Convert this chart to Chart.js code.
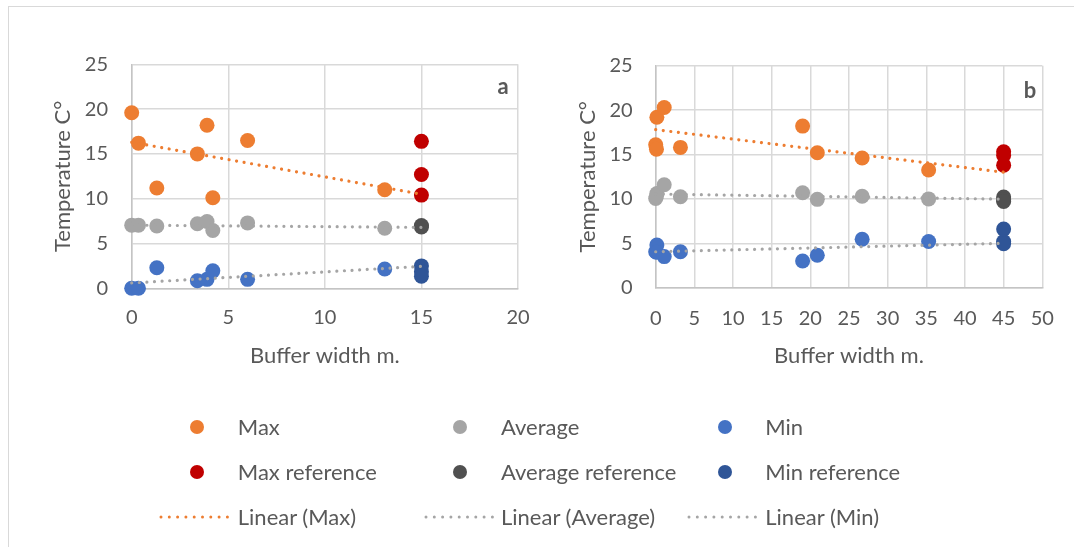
<!DOCTYPE html>
<html>
<head>
<meta charset="utf-8">
<script src="https://cdn.jsdelivr.net/npm/chart.js@4.4.1/dist/chart.umd.min.js"></script>
<style>
  html, body { margin: 0; padding: 0; background: #fff; }
  body { width: 1074px; height: 547px; position: relative; overflow: hidden; font-family: Lato, "Open Sans", sans-serif; }
  #frame { position: absolute; left: 8px; top: 6px; width: 1200px; height: 700px; border: 1px solid #d9d9d9; box-sizing: border-box; }
  .panel { position: absolute; top: 10px; width: 530px; height: 370px; }
  #panelA { left: 10px; }
  #panelB { left: 540px; }
  #legend { position: absolute; left: 0; top: 0; width: 1074px; height: 547px; pointer-events: none; }
  .item { position: absolute; height: 30px; line-height: 30px; color: #595959; font-size: 22px; white-space: nowrap; }
  .item .txt { position: absolute; top: 0; }
  .item .mark { position: absolute; top: 8px; width: 14px; height: 14px; border-radius: 50%; }
  .item svg { position: absolute; top: 13px; }
</style>
</head>
<body>
<div id="frame"></div>
<div class="panel" id="panelA"><canvas id="chartA" width="530" height="370"></canvas></div>
<div class="panel" id="panelB"><canvas id="chartB" width="530" height="370"></canvas></div>
<div id="legend"></div>
<script>
// ---- Panel a: buffer widths (m) and temperatures (°C) ----
const bufferA = [0, 0.35, 1.3, 3.4, 3.9, 4.2, 6.0, 13.1];
const maxA = [19.6, 16.2, 11.2, 15.0, 18.2, 10.1, 16.5, 11.0];
const avgA = [7.05, 7.05, 6.95, 7.2, 7.45, 6.45, 7.3, 6.7];
const minA = [0.0, 0.0, 2.3, 0.85, 1.0, 1.95, 1.0, 2.15];
const refBufferA = 15;
const maxRefA = [16.4, 12.7, 10.4];
const avgRefA = [7.0, 6.85];
const minRefA = [2.5, 1.85, 1.35];
const trendXA = [0, 15];
const trendMaxA = [16.3, 10.5];
const trendAvgA = [7.05, 6.8];
const trendMinA = [0.6, 2.45];

// ---- Panel b ----
const bufferB = [0, 0.15, 0.1, 1.1, 3.2, 19.0, 20.9, 26.7, 35.3];
const maxB = [16.1, 19.2, 15.6, 20.3, 15.8, 18.2, 15.2, 14.6, 13.25];
const avgB = [10.05, 10.6, 10.3, 11.6, 10.25, 10.7, 9.95, 10.3, 10.0];
const minB = [4.05, 4.8, 4.0, 3.5, 4.05, 3.0, 3.65, 5.45, 5.2];
const refBufferB = 45;
const maxRefB = [15.3, 14.9, 13.8];
const avgRefB = [10.2, 9.9, 9.7];
const minRefB = [6.6, 5.2, 4.95];
const trendXB = [0, 45];
const trendMaxB = [17.8, 13.0];
const trendAvgB = [10.55, 9.97];
const trendMinB = [4.05, 5.0];

// ---- Axis ticks and labels ----
const yTicks = [0, 5, 10, 15, 20, 25];
const xTicksA = [0, 5, 10, 15, 20];
const xTicksB = [0, 5, 10, 15, 20, 25, 30, 35, 40, 45, 50];
const xTitle = 'Buffer width m.';
const yTitle = 'Temperature C°';

const seriesNames = ['Max', 'Average', 'Min', 'Max reference', 'Average reference', 'Min reference'];
const trendNames = ['Linear (Max)', 'Linear (Average)', 'Linear (Min)'];

const COLORS = {
  max: '#ED7D31', avg: '#A5A5A5', min: '#4472C4',
  maxRef: '#C00000', avgRef: '#505050', minRef: '#2F5597',
  text: '#595959', grid: '#D9D9D9', axis: '#C4C4C4'
};
const FONT = 'Lato, "Open Sans", sans-serif';
const TICK_SIZE = 20, TITLE_SIZE = 22;

const pts = (xs, ys) => ys.map((y, i) => ({ x: Array.isArray(xs) ? xs[i] : xs, y }));

function markerSet(label, xs, ys, color, order) {
  return {
    type: 'scatter', label, data: pts(xs, ys), order,
    backgroundColor: color, borderColor: color, borderWidth: 0,
    pointRadius: 7.5, pointHoverRadius: 7.5, clip: false
  };
}
function trendSet(label, xs, ys, color) {
  return {
    type: 'line', label, data: pts(xs, ys), order: 0,
    borderColor: color, borderWidth: 3.2, borderDash: [0.01, 7.6], borderCapStyle: 'round',
    pointRadius: 0, fill: false, tension: 0, clip: false
  };
}

// panel letter drawn inside the plot area
const panelLetter = {
  id: 'panelLetter',
  afterDraw(chart, args, opts) {
    const { ctx, chartArea } = chart;
    ctx.save();
    ctx.font = 'bold 22px ' + FONT;
    ctx.fillStyle = COLORS.text;
    ctx.textAlign = 'center';
    ctx.textBaseline = 'alphabetic';
    ctx.fillText(opts.text, chartArea.right - opts.dx, chartArea.top + opts.dy);
    ctx.restore();
  }
};

function makeChart(id, cfg) {
  const d = cfg.data;
  const lh = 1.2;
  // x tick labels are pushed down through their line height (a tick padding would also widen the side margins)
  const xTickLH = 2 * (cfg.xTickY - cfg.area.bottom) / TICK_SIZE;
  const chart = new Chart(document.getElementById(id), {
    type: 'scatter',
    data: {
      datasets: [
        trendSet(trendNames[0], d.tx, d.tmax, COLORS.max),
        trendSet(trendNames[1], d.tx, d.tavg, COLORS.avg),
        trendSet(trendNames[2], d.tx, d.tmin, COLORS.avg),
        markerSet(seriesNames[5], d.rx, d.minRef, COLORS.minRef, 1),
        markerSet(seriesNames[4], d.rx, d.avgRef, COLORS.avgRef, 2),
        markerSet(seriesNames[3], d.rx, d.maxRef, COLORS.maxRef, 3),
        markerSet(seriesNames[2], d.x, d.min, COLORS.min, 4),
        markerSet(seriesNames[1], d.x, d.avg, COLORS.avg, 5),
        markerSet(seriesNames[0], d.x, d.max, COLORS.max, 6)
      ]
    },
    options: {
      responsive: false, animation: false, devicePixelRatio: 1,
      layout: { padding: { left: 0, top: cfg.area.top, right: 530 - cfg.area.right, bottom: 0 } },
      plugins: { legend: { display: false }, tooltip: { enabled: false }, panelLetter: cfg.letter },
      scales: {
        x: {
          type: 'linear', min: cfg.xTicks[0], max: cfg.xTicks[cfg.xTicks.length - 1],
          afterBuildTicks: s => { s.ticks = cfg.xTicks.map(v => ({ value: v })); },
          afterFit: s => { s.height = cfg.xAxisH; },
          grid: { color: COLORS.grid, lineWidth: 1.5, drawTicks: false },
          border: { color: COLORS.axis, width: 1.5 },
          ticks: { color: COLORS.text, font: { family: FONT, size: TICK_SIZE, lineHeight: xTickLH },
                   padding: 0, maxRotation: 0, autoSkip: false },
          title: { display: true, text: xTitle, color: COLORS.text, font: { family: FONT, size: TITLE_SIZE, lineHeight: lh },
                   padding: { top: 0, bottom: 370 - cfg.xTitleY - TITLE_SIZE * lh / 2 } }
        },
        y: {
          type: 'linear', min: 0, max: 25,
          afterBuildTicks: s => { s.ticks = yTicks.map(v => ({ value: v })); },
          afterFit: s => { s.width = cfg.yAxisW; },
          grid: { color: COLORS.grid, lineWidth: 1.5, drawTicks: false },
          border: { color: COLORS.axis, width: 1.5 },
          ticks: { color: COLORS.text, font: { family: FONT, size: TICK_SIZE, lineHeight: lh }, padding: cfg.yTickPad },
          title: { display: true, text: yTitle, color: COLORS.text, font: { family: FONT, size: TITLE_SIZE, lineHeight: lh },
                   padding: { top: cfg.yTitleX - TITLE_SIZE * lh / 2, bottom: 0 } }
        }
      }
    },
    plugins: [panelLetter]
  });
  // settle the plot area on the wanted box
  cfg.yAxisW = cfg.area.left;
  cfg.xAxisH = 370 - cfg.area.bottom;
  for (let i = 0; i < 3; i++) {
    const a = chart.chartArea, p = chart.options.layout.padding;
    p.top += cfg.area.top - a.top;
    p.right += a.right - cfg.area.right;
    cfg.yAxisW += cfg.area.left - a.left;
    cfg.xAxisH += a.bottom - cfg.area.bottom;
    chart.update('none');
  }
  return chart;
}

makeChart('chartA', {
  data: { x: bufferA, max: maxA, avg: avgA, min: minA, rx: refBufferA, maxRef: maxRefA, avgRef: avgRefA, minRef: minRefA,
          tx: trendXA, tmax: trendMaxA, tavg: trendAvgA, tmin: trendMinA },
  xTicks: xTicksA,
  area: { left: 121.7, top: 54.3, right: 508, bottom: 278.3 },
  yAxisW: 121.7, xAxisH: 91.7,
  yTickPad: 23.7, xTickY: 308, xTitleY: 346, yTitleX: 53.3,
  letter: { text: 'a', dx: 15, dy: 29.7 }
});
makeChart('chartB', {
  data: { x: bufferB, max: maxB, avg: avgB, min: minB, rx: refBufferB, maxRef: maxRefB, avgRef: avgRefB, minRef: minRefB,
          tx: trendXB, tmax: trendMaxB, tavg: trendAvgB, tmin: trendMinB },
  xTicks: xTicksB,
  area: { left: 115.7, top: 55.7, right: 502.3, bottom: 277.7 },
  yAxisW: 115.7, xAxisH: 92.3,
  yTickPad: 23, xTickY: 308.3, xTitleY: 346, yTitleX: 48.3,
  letter: { text: 'b', dx: 12.3, dy: 31.8 }
});

// ---- Shared legend: three columns, three rows ----
const legendMarkX = [196.9, 460.2, 725.0];
const legendTextX = [237.8, 501.0, 765.3];
const legendLineX = [[161.2, 229.0], [425.5, 492.9], [689.3, 757.0]];
const legendRows = [426.7, 471.7, 516.7];
const markerColors = [COLORS.max, COLORS.avg, COLORS.min, COLORS.maxRef, COLORS.avgRef, COLORS.minRef];
const trendColors = [COLORS.max, COLORS.avg, COLORS.avg];
const legend = document.getElementById('legend');
function addItem(left, cy, html) {
  const el = document.createElement('div');
  el.className = 'item';
  el.style.left = left + 'px';
  el.style.top = (cy - 15) + 'px';
  el.innerHTML = html;
  legend.appendChild(el);
}
seriesNames.forEach((name, i) => {
  const col = i % 3, cy = legendRows[Math.floor(i / 3)];
  const left = legendMarkX[col] - 7;
  addItem(left, cy, '<span class="mark" style="left:0;background:' + markerColors[i] + '"></span>' +
    '<span class="txt" style="left:' + (legendTextX[col] - left) + 'px">' + name + '</span>');
});
trendNames.forEach((name, i) => {
  const cy = legendRows[2];
  const [x0, x1] = legendLineX[i];
  const left = x0 - 2;
  const w = x1 - x0 + 4;
  addItem(left, cy, '<svg width="' + w + '" height="4"><line x1="2" y1="2" x2="' + (w - 2) + '" y2="2" stroke="' + trendColors[i] +
    '" stroke-width="3" stroke-linecap="round" stroke-dasharray="0 8.3"/></svg>' +
    '<span class="txt" style="left:' + (legendTextX[i] - left) + 'px">' + name + '</span>');
});
</script>
</body>
</html>
